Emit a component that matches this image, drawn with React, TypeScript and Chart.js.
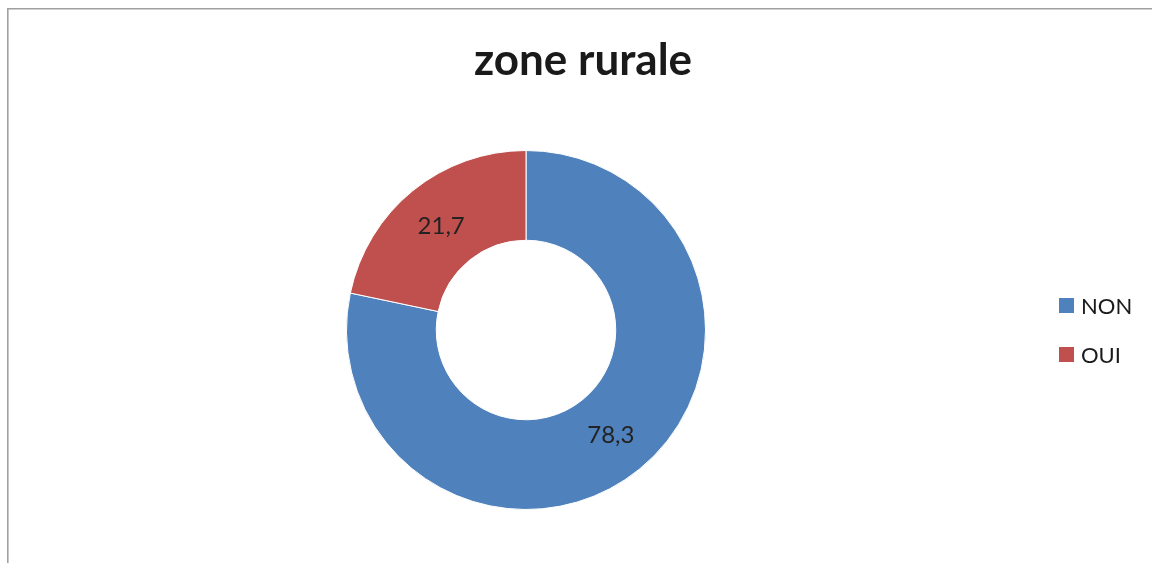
import React, { useEffect, useRef } from "react";
import { Chart, registerables } from "chart.js";

Chart.register(...registerables);

const categories = ["NON", "OUI"];
const values = [78.3, 21.7];
const valueLabels = ["78,3", "21,7"];
const colors = ["#4F81BD", "#C0504D"];
const titleText = "zone rurale";

const FONT = "Lato, 'Open Sans', sans-serif";

const overlayPlugin = {
  id: "overlay",
  beforeDraw(chart: any) {
    const ctx = chart.ctx;
    ctx.save();
    ctx.fillStyle = "#ffffff";
    ctx.fillRect(0, 0, chart.width, chart.height);
    ctx.strokeStyle = "#a0a0a0";
    ctx.lineWidth = 1.6;
    ctx.beginPath();
    ctx.moveTo(7.8, chart.height + 2);
    ctx.lineTo(7.8, 8.8);
    ctx.lineTo(chart.width + 2, 8.8);
    ctx.stroke();
    ctx.restore();
  },
  afterDraw(chart: any) {
    const ctx = chart.ctx;
    ctx.save();
    // title
    ctx.fillStyle = "#1a1a1a";
    ctx.font = `bold 44px ${FONT}`;
    ctx.textAlign = "center";
    ctx.textBaseline = "alphabetic";
    ctx.fillText(titleText, 583, 75);

    // data labels at arc centroids
    const meta = chart.getDatasetMeta(0);
    ctx.font = `24px ${FONT}`;
    ctx.textBaseline = "middle";
    ctx.fillStyle = "#222222";
    meta.data.forEach((arc: any, i: number) => {
      const p = arc.tooltipPosition();
      ctx.fillText(valueLabels[i], p.x, p.y + 1);
    });

    // legend
    ctx.textAlign = "left";
    ctx.font = `22px ${FONT}`;
    const ys = [305.5, 354.5];
    categories.forEach((c, i) => {
      ctx.fillStyle = colors[i];
      ctx.fillRect(1059, ys[i] - 7.5, 15, 15);
      ctx.fillStyle = "#1a1a1a";
      ctx.fillText(c, 1081, ys[i] + 1);
    });
    ctx.restore();
  },
};

export default function App() {
  const ref = useRef<HTMLCanvasElement>(null);
  useEffect(() => {
    if (!ref.current) return;
    const chart = new Chart(ref.current, {
      type: "doughnut",
      data: {
        labels: categories,
        datasets: [
          {
            data: values,
            backgroundColor: colors,
            borderColor: "#ffffff",
            borderWidth: 1,
            hoverOffset: 0,
          },
        ],
      },
      options: {
        responsive: false,
        animation: false,
        devicePixelRatio: 1,
        cutout: "50%",
        layout: {
          padding: { left: 346, right: 1152 - 706, top: 150, bottom: 563 - 510 },
        },
        plugins: {
          legend: { display: false },
          title: { display: false },
          tooltip: { enabled: false },
        },
        events: [],
      },
      plugins: [overlayPlugin],
    });
    return () => chart.destroy();
  }, []);
  return (
    <div style={{ position: "fixed", left: 0, top: 0, width: 1152, height: 563, background: "#fff" }}>
      <canvas ref={ref} width={1152} height={563} style={{ display: "block", width: 1152, height: 563 }} />
    </div>
  );
}
